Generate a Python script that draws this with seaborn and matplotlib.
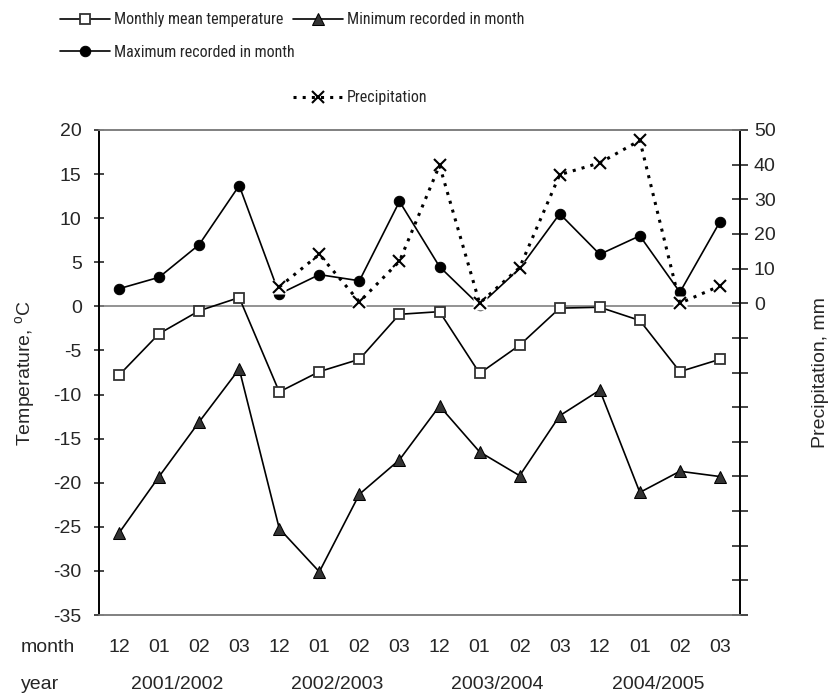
"""Monthly temperature and precipitation, winter seasons 2001/2002 - 2004/2005."""
import matplotlib
matplotlib.use("Agg")
import matplotlib.pyplot as plt
import numpy as np
import seaborn as sns
from matplotlib import font_manager
from matplotlib.transforms import blended_transform_factory

# --- data ---
months = ["12", "01", "02", "03"] * 4
seasons = ["2001/2002", "2002/2003", "2003/2004", "2004/2005"]

mean_temp = [-7.8, -3.1, -0.5, 1.0, -9.7, -7.4, -6.0, -0.9,
             -0.6, -7.6, -4.4, -0.2, -0.1, -1.6, -7.4, -6.0]
min_temp = [-25.7, -19.3, -13.1, -7.1, -25.2, -30.1, -21.3, -17.4,
            -11.3, -16.5, -19.2, -12.4, -9.5, -21.1, -18.7, -19.3]
max_temp = [2.0, 3.3, 7.0, 13.7, 1.4, 3.6, 2.9, 11.9,
            4.5, 0.1, 4.3, 10.5, 5.9, 8.0, 1.6, 9.6]
precip = [np.nan, np.nan, np.nan, np.nan, 4.7, 14.1, 0.4, 12.1,
          39.8, 0.0, 10.3, 37.1, 40.5, 47.0, 0.0, 5.0]

x = np.arange(len(months))

sns.set_style("white")
plt.rcParams["font.family"] = ["Liberation Sans", "DejaVu Sans"]
plt.rcParams["font.size"] = 14
plt.rcParams["axes.unicode_minus"] = False
plt.rcParams["mathtext.fontset"] = "custom"
plt.rcParams["mathtext.rm"] = "Liberation Sans"

# legend text in the original is a narrow face; use one if it is installed
installed = {f.name for f in font_manager.fontManager.ttflist}
leg_font = {"family": ["Liberation Sans"], "size": 10}
for narrow in ("Liberation Sans Narrow", "Roboto Condensed", "DejaVu Sans Condensed"):
    if narrow in installed:
        leg_font = {"family": [narrow, "Liberation Sans"], "size": 11.5}
        break

fig = plt.figure(figsize=(8.33, 6.98), dpi=100)
ax = fig.add_axes([99 / 833, 1 - 615 / 698, 641 / 833, 485 / 698])
ax2 = ax.twinx()

# temperature series (left axis)
ax.axhline(0, color="#808080", lw=1.2, zorder=1)
sns.lineplot(x=x, y=mean_temp, ax=ax, color="black", lw=1.2, marker="s",
             markersize=7, markerfacecolor="white", markeredgecolor="#333333",
             markeredgewidth=1.3, label="Monthly mean temperature", legend=False)
sns.lineplot(x=x, y=max_temp, ax=ax, color="black", lw=1.2, marker="o",
             markersize=7.5, markerfacecolor="black", markeredgecolor="black",
             label="Maximum recorded in month", legend=False)
sns.lineplot(x=x, y=min_temp, ax=ax, color="black", lw=1.2, marker="^",
             markersize=9, markerfacecolor="#333333", markeredgecolor="black",
             label="Minimum recorded in month", legend=False)

# precipitation (right axis): white box behind the cross like the original
ax2.plot(x, precip, ls="none", marker="s", markersize=10,
         markerfacecolor="white", markeredgecolor="none")
sns.lineplot(x=x, y=precip, ax=ax2, color="black", lw=2.2,
             linestyle=(0, (1, 2)), marker="x", markersize=9,
             markeredgewidth=1.5, markeredgecolor="black",
             label="Precipitation", legend=False)

ax.set_xlim(-0.5, 15.5)
ax.set_ylim(-35, 20)
ax.set_yticks(np.arange(-35, 21, 5))
ax2.set_ylim(-90, 50)
ax2.set_yticks(np.arange(-90, 51, 10))
ax2.set_yticklabels([str(v) if v >= 0 else "" for v in range(-90, 51, 10)])

ax.set_xticks(x)
ax.set_xticklabels(months)
ax.tick_params(axis="x", length=0, pad=17, labelsize=14)
ax.tick_params(axis="y", direction="inout", length=7, width=1.2, pad=9,
               labelsize=14, left=True)
ax2.tick_params(axis="y", direction="inout", length=12, width=1.2, pad=4,
                labelsize=14, right=True)

for a in (ax, ax2):
    a.spines["top"].set_color("#808080")
    a.spines["bottom"].set_color("#808080")
    a.spines["left"].set_color("black")
    a.spines["right"].set_color("black")
    for s in a.spines.values():
        s.set_linewidth(1.2)
ax2.set_zorder(ax.get_zorder() + 1)

ax.set_ylabel("Temperature, $^{\\mathrm{o}}$C", fontsize=14)
ax.yaxis.set_label_coords(-0.095, 0.5)
ax2.set_ylabel("Precipitation, mm", fontsize=14)
ax2.yaxis.set_label_coords(1.113, 0.5)

# month / year rows under the axis
trans = blended_transform_factory(ax.transData, ax.transAxes)
ax.text(-2.45, -0.068, "month", transform=trans, ha="left", va="center",
        fontsize=14)
ax.text(-2.45, -0.143, "year", transform=trans, ha="left", va="center",
        fontsize=14)
for i, s in enumerate(seasons):
    ax.text(4 * i + 1.45, -0.143, s, transform=trans, ha="center",
            va="center", fontsize=14)

# legends at the top, one per column block
h, l = ax.get_legend_handles_labels()
h2, l2 = ax2.get_legend_handles_labels()
common = dict(loc="upper left", frameon=False, prop=leg_font, handlelength=3.1,
              handletextpad=0.25, borderaxespad=0, labelspacing=1.1)
fig.legend(h[:2], l[:2], bbox_to_anchor=(54 / 833, 1 - 6 / 698), **common)
fig.legend(h[2:], l[2:], bbox_to_anchor=(287 / 833, 1 - 6 / 698), **common)
fig.legend(h2, l2, bbox_to_anchor=(287 / 833, 1 - 84 / 698), **common)

fig.savefig("out.png", dpi=100)
